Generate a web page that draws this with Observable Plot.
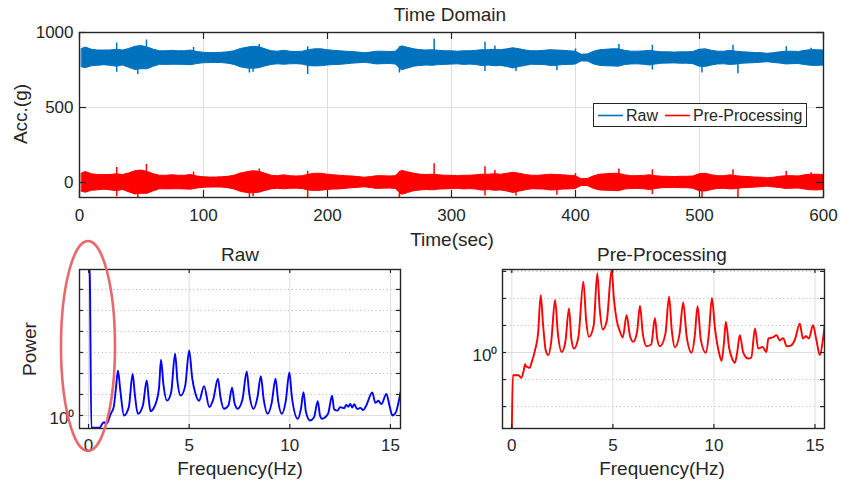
<!DOCTYPE html>
<html>
<head>
<meta charset="utf-8">
<script src="https://cdn.jsdelivr.net/npm/d3@7"></script>
<script src="https://cdn.jsdelivr.net/npm/@observablehq/plot@0.6"></script>
<style>
  html, body { margin: 0; padding: 0; background: #ffffff; }
  #fig { position: relative; width: 841px; height: 486px; overflow: hidden; background: #ffffff;
         font-family: 'Liberation Sans', Arial, Helvetica, sans-serif; color: #262626; }
  .abs { position: absolute; }
  .lbl { position: absolute; transform: translate(-50%, -50%); white-space: nowrap; font-size: 19px; }
  .rot { transform: translate(-50%, -50%) rotate(-90deg); }
</style>
</head>
<body>
<div id="fig"></div>
<script>
// ---------------- data ----------------
const seriesNames = ["Raw", "Pre-Processing"];
const seriesColors = ["#0072BD", "#FF0000"];
const spectrumColors = ["#0000FF", "#FF0000"];

const timeSec = [2,5,10,15,20,25,30,35,40,45,50,55,60,65,70,75,80,85,90,95,100,105,110,115,120,125,130,135,140,145,150,155,160,165,170,175,180,185,190,195,200,205,210,215,220,225,230,235,240,245,250,255,260,265,270,275,280,285,290,295,300,305,310,315,320,325,330,335,340,345,350,355,360,365,370,375,380,385,390,395,400,405,410,415,420,425,430,435,440,445,450,455,460,465,470,475,480,485,490,495,500,505,510,515,520,525,530,535,540,545,550,555,560,565,570,575,580,585,590,595,600];
const rawHi = [890,900,885,880,880,880,885,880,890,905,
  910,900,885,875,875,878,875,875,880,870,
  865,863,863,865,868,875,890,898,905,902,
  888,875,872,878,872,870,872,882,888,888,
  882,878,875,872,870,866,862,866,872,872,
  870,872,908,898,888,882,880,882,878,875,
  875,872,875,875,878,882,882,885,882,888,
  895,888,880,875,875,878,882,880,878,875,
  872,852,854,872,882,885,888,888,878,872,
  872,874,878,872,868,868,866,868,868,870,
  885,888,878,872,872,878,872,868,866,863,
  862,858,862,868,872,872,870,878,882,882,
  880];
const rawLo = [768,762,775,778,782,778,772,780,765,750,
  755,755,772,785,784,785,785,784,782,790,
  795,796,797,796,792,784,768,760,758,762,
  774,784,788,785,788,789,786,776,774,775,
  780,783,784,788,792,795,798,793,787,789,
  790,787,748,760,772,777,780,778,783,784,
  786,788,784,786,783,776,780,775,777,770,
  760,770,778,785,784,783,777,778,783,784,
  786,807,806,787,777,775,774,772,783,787,
  788,785,780,787,792,793,794,792,792,789,
  772,770,780,787,788,784,786,792,794,796,
  799,802,797,793,787,789,790,783,778,777,
  780];
const preHi = [60,70,55,50,50,50,55,50,60,75,
  80,70,55,45,45,48,45,45,50,40,
  35,33,33,35,38,45,60,68,75,72,
  58,45,42,48,42,40,42,52,58,58,
  52,48,45,42,40,36,32,36,42,42,
  40,42,78,68,58,52,50,52,48,45,
  45,42,45,45,48,52,52,55,52,58,
  65,58,50,45,45,48,52,50,48,45,
  42,22,24,42,52,55,58,58,48,42,
  42,44,48,42,38,38,36,38,38,40,
  55,58,48,42,42,48,42,38,36,33,
  32,28,32,38,42,42,40,48,52,52,
  50];
const preLo = [-62,-68,-55,-52,-48,-52,-58,-50,-65,-80,
  -75,-75,-58,-45,-46,-45,-45,-46,-48,-40,
  -35,-34,-33,-34,-38,-46,-62,-70,-72,-68,
  -56,-46,-42,-45,-42,-41,-44,-54,-56,-55,
  -50,-47,-46,-42,-38,-35,-32,-37,-43,-41,
  -40,-43,-82,-70,-58,-53,-50,-52,-47,-46,
  -44,-42,-46,-44,-47,-54,-50,-55,-53,-60,
  -70,-60,-52,-45,-46,-47,-53,-52,-47,-46,
  -44,-23,-24,-43,-53,-55,-56,-58,-47,-43,
  -42,-45,-50,-43,-38,-37,-36,-38,-38,-41,
  -58,-60,-50,-43,-42,-46,-44,-38,-36,-34,
  -31,-28,-33,-37,-43,-41,-40,-47,-52,-53,
  -50];

// Isolated spikes in the time signal
const spikeTime   = [30,47,54,92,137,140,145,184,258,286,327,335,352,385,400,435,462,502,527,531,570,590];
const rawSpikeHi  = [930,830,950,900,830,830,920,905,905,955,935,910,830,830,890,920,915,830,915,830,905,895];
const rawSpikeLo  = [735,720,800,800,730,735,830,720,730,800,740,830,740,745,830,830,750,730,830,725,830,830];
const preSpikeHi  = [100,0,120,70,0,0,90,75,75,125,105,80,0,0,60,90,85,0,85,0,75,65];
const preSpikeLo  = [-95,-110,-30,-30,-100,-95,0,-110,-100,-30,-90,0,-90,-85,0,0,-80,-100,0,-105,0,0];

// Spectra
const rawFreq = [0,0.06,0.14,0.3,0.55,0.68,0.76,0.9,1.1,1.25,1.36,1.46,1.58,1.76,2.0,2.19,2.3,2.45,2.7,2.89,3.0,3.08,3.3,3.5,3.6,3.72,3.9,4.1,4.3,4.42,4.58,4.8,5.0,5.15,5.3,5.49,5.74,6.0,6.2,6.43,6.55,6.73,6.95,7.13,7.25,7.4,7.65,7.86,7.98,8.2,8.4,8.56,8.7,8.9,9.1,9.29,9.42,9.6,9.8,9.98,10.1,10.4,10.55,10.68,10.8,11.0,11.2,11.39,11.5,11.6,11.9,12.1,12.2,12.37,12.5,12.7,12.8,12.9,13.0,13.1,13.2,13.35,13.5,13.65,13.8,14.1,14.25,14.4,14.55,14.8,14.95,15.1,15.25,15.5];
const rawPower = [2e7,5e6,0.26,0.26,0.26,0.4,0.48,0.4,1.2,2.5,20,138,15,1.0,2.5,95,10,1.2,3,47,5,1.6,3,20,450,30,5.1,12,870,40,8.9,25,1260,60,12,5,25,2.5,6,56,8,2.1,3,21,4,2.1,6,126,12,2.1,8,74,6,1.2,4,56,5,1.2,5,112,8,0.7,2,13,1.5,0.58,0.8,4.8,1.0,0.7,1.2,8.7,2,1.7,2.5,2.2,3.2,2.6,3.5,2.4,3.4,2.0,2.3,1.8,3,12.6,4,5,3.5,10.7,3,1.0,1.3,12.6];
const preFreq = [0,0.05,0.33,0.46,0.58,0.66,0.72,0.79,0.88,0.99,1.15,1.3,1.43,1.55,1.68,1.81,1.95,2.14,2.28,2.47,2.65,2.83,2.95,3.08,3.3,3.54,3.68,3.82,4.05,4.23,4.35,4.5,4.7,4.94,5.05,5.19,5.35,5.49,5.68,5.85,6.01,6.2,6.34,6.48,6.67,6.9,7.08,7.2,7.33,7.6,7.78,7.92,8.07,8.3,8.48,8.65,8.9,9.05,9.19,9.35,9.6,9.75,9.9,10.05,10.25,10.38,10.5,10.59,10.75,10.9,11.04,11.15,11.28,11.45,11.7,11.85,12.03,12.19,12.4,12.6,12.69,12.9,13.1,13.25,13.43,13.6,13.8,14.0,14.25,14.4,14.55,14.7,14.9,15.07,15.24,15.4,15.5];
const prePower = [0.001,0.145,0.145,0.117,0.2,0.37,0.3,0.29,0.27,0.45,1.23,5,132,10,1.2,0.8,2.5,87,5,1.05,2.5,43,3,1.4,4,417,15,3.8,10,850,40,7.1,15,1175,100,15.8,6,3.6,24,4,2.5,6,54,5,1.7,2,19,3,1.7,5,115,6,1.55,5,71,4,0.98,4,52,3,0.98,5,105,8,1.0,0.49,2.5,13.8,1.5,0.6,0.42,1,4.4,1.0,0.6,0.66,7.8,1.4,1.6,1.05,3.3,3.6,4.4,2.8,3.4,1.7,1.8,2.9,11.7,3.3,4,3.3,10.2,2.9,0.8,3.3,14];

// Ticks / labels
const timeTicks = [0,100,200,300,400,500,600];
const accTicks = [0,500,1000];
const freqTicks = [0,5,10,15];
const titles = { top: "Time Domain", left: "Raw", right: "Pre-Processing" };
const axisLabels = { time: "Time(sec)", acc: "Acc.(g)", freq: "Frequency(Hz)", power: "Power" };

// ---------------- checks ----------------
[rawHi, rawLo, preHi, preLo].forEach((a, i) => { if (a.length !== timeSec.length) throw new Error("len mismatch band " + i + ": " + a.length); });
[rawSpikeHi, rawSpikeLo, preSpikeHi, preSpikeLo].forEach((a, i) => { if (a.length !== spikeTime.length) throw new Error("len mismatch spike " + i); });
if (rawFreq.length !== rawPower.length) throw new Error("raw spectrum mismatch " + rawFreq.length + " " + rawPower.length);
if (preFreq.length !== prePower.length) throw new Error("pre spectrum mismatch " + preFreq.length + " " + prePower.length);

// ---------------- build ----------------
const FONT = "'Liberation Sans', Arial, Helvetica, sans-serif";
const INK = "#262626";
const GRID = "#dedede";
const fig = document.getElementById("fig");

function place(node, left, top) {
  const d = document.createElement("div");
  d.className = "abs";
  d.style.left = left + "px"; d.style.top = top + "px";
  d.appendChild(node);
  fig.appendChild(d);
  return d;
}
function label(text, x, y, rotate, size) {
  const d = document.createElement("div");
  d.className = "lbl" + (rotate ? " rot" : "");
  d.style.left = x + "px"; d.style.top = y + "px";
  if (size) d.style.fontSize = size + "px";
  d.textContent = text;
  fig.appendChild(d);
}

// ---- Top: time domain ----
const bandRaw = timeSec.map((t, i) => ({ t, hi: rawHi[i], lo: rawLo[i] }));
const bandPre = timeSec.map((t, i) => ({ t, hi: preHi[i], lo: preLo[i] }));
const spkRaw = spikeTime.map((t, i) => ({ t, hi: rawSpikeHi[i], lo: rawSpikeLo[i] }));
const spkPre = spikeTime.map((t, i) => ({ t, hi: preSpikeHi[i], lo: preSpikeLo[i] }));

const T = { w: 841, h: 240, ml: 79, mr: 18, mt: 32, mb: 43 };
const TfW = T.w - T.ml - T.mr, TfH = T.h - T.mt - T.mb;
const topPlot = Plot.plot({
  width: T.w, height: T.h,
  marginLeft: T.ml, marginRight: T.mr, marginTop: T.mt, marginBottom: T.mb,
  x: { domain: [0, 600], label: null },
  y: { domain: [-100, 1000], label: null },
  style: { fontFamily: FONT, fontSize: "17px", color: INK, background: "transparent", overflow: "visible" },
  marks: [
    Plot.ruleX(timeTicks.slice(1, -1), { stroke: GRID, strokeWidth: 1 }),
    Plot.ruleY([500], { stroke: GRID, strokeWidth: 1 }),
    Plot.areaY(bandRaw, { x: "t", y1: "lo", y2: "hi", fill: seriesColors[0], stroke: seriesColors[0], strokeWidth: 1, clip: true }),
    Plot.ruleX(spkRaw, { x: "t", y1: "lo", y2: "hi", stroke: seriesColors[0], strokeWidth: 1.5, clip: true }),
    Plot.areaY(bandPre, { x: "t", y1: "lo", y2: "hi", fill: seriesColors[1], stroke: seriesColors[1], strokeWidth: 1, clip: true }),
    Plot.ruleX(spkPre, { x: "t", y1: "lo", y2: "hi", stroke: seriesColors[1], strokeWidth: 1.5, clip: true }),
    Plot.ruleX(timeTicks, { stroke: INK, strokeWidth: 1.2, insetTop: TfH - 7 }),
    Plot.ruleX(timeTicks, { stroke: INK, strokeWidth: 1.2, insetBottom: TfH - 7 }),
    Plot.ruleY(accTicks, { stroke: INK, strokeWidth: 1.2, insetRight: TfW - 7 }),
    Plot.ruleY(accTicks, { stroke: INK, strokeWidth: 1.2, insetLeft: TfW - 7 }),
    Plot.frame({ stroke: INK, strokeWidth: 1.4 }),
    Plot.axisX({ ticks: timeTicks, tickFormat: d => String(d), tickSize: 0, tickPadding: 11, label: null }),
    Plot.axisY({ ticks: accTicks, tickFormat: d => String(d), tickSize: 0, tickPadding: 6, label: null })
  ]
});
place(topPlot, 0, 0);

// Legend
(function () {
  const box = document.createElement("div");
  box.className = "abs";
  Object.assign(box.style, { left: "593px", top: "103px", width: "212px", height: "22px",
    border: "1.3px solid " + INK, background: "#fff", fontSize: "16px", lineHeight: "22px" });
  const ns = "http://www.w3.org/2000/svg";
  const svg = document.createElementNS(ns, "svg");
  svg.setAttribute("width", 212); svg.setAttribute("height", 22);
  svg.style.position = "absolute"; svg.style.left = "0"; svg.style.top = "0";
  const items = [{ x1: 4, x2: 29, tx: 32 }, { x1: 71, x2: 96, tx: 99 }];
  items.forEach((it, i) => {
    const ln = document.createElementNS(ns, "line");
    ln.setAttribute("x1", it.x1); ln.setAttribute("x2", it.x2);
    ln.setAttribute("y1", 11.5); ln.setAttribute("y2", 11.5);
    ln.setAttribute("stroke", seriesColors[i]); ln.setAttribute("stroke-width", 1.6);
    svg.appendChild(ln);
    const tx = document.createElementNS(ns, "text");
    tx.setAttribute("x", it.tx); tx.setAttribute("y", 17);
    tx.setAttribute("font-family", FONT); tx.setAttribute("font-size", 16); tx.setAttribute("fill", INK);
    tx.textContent = seriesNames[i];
    svg.appendChild(tx);
  });
  box.appendChild(svg);
  fig.appendChild(box);
})();

// ---- Bottom: spectra ----
function spectrum({ freq, power, color, xDomain, yDomain, decades, width, ml, mr }) {
  const h = 246, mt = 29, mb = 58;
  const fW = width - ml - mr, fH = h - mt - mb;
  const data = freq.map((f, i) => ({ f, p: power[i] }));
  const minor = decades.filter(d => d !== 1);
  return Plot.plot({
    width, height: h, marginLeft: ml, marginRight: mr, marginTop: mt, marginBottom: mb,
    x: { domain: xDomain, label: null },
    y: { type: "log", domain: yDomain, label: null },
    style: { fontFamily: FONT, fontSize: "17px", color: INK, background: "transparent", overflow: "visible" },
    marks: [
      Plot.ruleX(freqTicks, { stroke: GRID, strokeWidth: 1 }),
      Plot.ruleY([1], { stroke: GRID, strokeWidth: 1 }),
      Plot.ruleY(minor, { stroke: "#bdbdbd", strokeWidth: 1, strokeDasharray: "1.2,2.6" }),
      Plot.line(data, { x: "f", y: "p", stroke: color, strokeWidth: 1.9, curve: "monotone-x", clip: true }),
      Plot.ruleX(freqTicks, { stroke: INK, strokeWidth: 1.2, insetTop: fH - 4 }),
      Plot.ruleX(freqTicks, { stroke: INK, strokeWidth: 1.2, insetBottom: fH - 4 }),
      Plot.ruleY(decades, { stroke: INK, strokeWidth: 1.2, insetRight: fW - 4 }),
      Plot.ruleY(decades, { stroke: INK, strokeWidth: 1.2, insetLeft: fW - 4 }),
      Plot.frame({ stroke: INK, strokeWidth: 1.4 }),
      Plot.axisX({ ticks: freqTicks, tickFormat: d => String(d), tickSize: 0, tickPadding: 10, label: null }),
      Plot.axisY({ ticks: [1], tickFormat: () => "10\u2070", tickSize: 0, tickPadding: 5, dy: 3, label: null })
    ]
  });
}

place(spectrum({ freq: rawFreq, power: rawPower, color: spectrumColors[0],
  xDomain: [-0.45, 15.5], yDomain: [0.24, 8.9e6],
  decades: [1, 10, 100, 1e3, 1e4, 1e5, 1e6], width: 420, ml: 79, mr: 20 }), 0, 240);
place(spectrum({ freq: preFreq, power: prePower, color: spectrumColors[1],
  xDomain: [-0.46, 15.47], yDomain: [0.00155, 1175],
  decades: [0.01, 0.1, 1, 10, 100, 1000], width: 421, ml: 82, mr: 17 }), 420, 240);

// ---- Text labels ----
label(titles.top, 450, 15);
label(axisLabels.acc, 21, 114, true);
label(axisLabels.time, 452, 240);
label(titles.left, 240, 255);
label(titles.right, 662, 255);
label(axisLabels.power, 30, 349, true);
label(axisLabels.freq, 240, 469);
label(axisLabels.freq, 662, 469);

// ---- Annotation ellipse around the DC peak ----
(function () {
  const ns = "http://www.w3.org/2000/svg";
  const svg = document.createElementNS(ns, "svg");
  svg.setAttribute("width", 841); svg.setAttribute("height", 486);
  Object.assign(svg.style, { position: "absolute", left: "0", top: "0", pointerEvents: "none" });
  const e = document.createElementNS(ns, "ellipse");
  e.setAttribute("cx", 88); e.setAttribute("cy", 346); e.setAttribute("rx", 27); e.setAttribute("ry", 105);
  e.setAttribute("fill", "none"); e.setAttribute("stroke", "#e8686b"); e.setAttribute("stroke-width", 2.6);
  svg.appendChild(e);
  fig.appendChild(svg);
})();
</script>
</body>
</html>
